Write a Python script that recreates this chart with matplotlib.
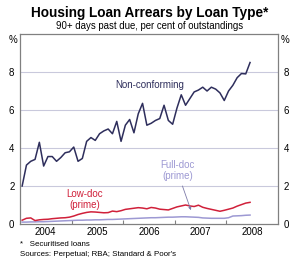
import numpy as np
import matplotlib
matplotlib.use("Agg")
import matplotlib.pyplot as plt

plt.rcParams['font.family'] = ['Liberation Sans', 'DejaVu Sans']

# monthly data, Jan 2004 - Jun 2008
months = np.arange(54)

non_conforming = [2.0, 3.1, 3.3, 3.4, 4.3, 3.05, 3.55, 3.55, 3.3, 3.5,
                  3.75, 3.8, 4.05, 3.3, 3.45, 4.35, 4.55, 4.4, 4.75, 4.9,
                  5.0, 4.75, 5.4, 4.35, 5.2, 5.5, 4.8, 5.8, 6.35, 5.2,
                  5.3, 5.45, 5.55, 6.25, 5.45, 5.25, 6.1, 6.8, 6.25, 6.6,
                  6.95, 7.05, 7.2, 7.0, 7.2, 7.1, 6.9, 6.5, 7.0, 7.3,
                  7.7, 7.92, 7.9, 8.5]

low_doc = [0.2, 0.3, 0.32, 0.18, 0.22, 0.24, 0.25, 0.28, 0.3, 0.32,
           0.33, 0.36, 0.42, 0.5, 0.56, 0.61, 0.64, 0.63, 0.61, 0.59,
           0.6, 0.68, 0.65, 0.7, 0.77, 0.8, 0.83, 0.86, 0.84, 0.8,
           0.87, 0.84, 0.78, 0.76, 0.74, 0.82, 0.9, 0.95, 1.0, 0.95,
           0.92, 0.99, 0.88, 0.82, 0.77, 0.72, 0.67, 0.72, 0.78, 0.84,
           0.94, 1.02, 1.1, 1.14]

full_doc = [0.1, 0.1, 0.11, 0.11, 0.12, 0.12, 0.13, 0.14, 0.15, 0.16,
            0.17, 0.18, 0.19, 0.2, 0.2, 0.21, 0.21, 0.22, 0.22, 0.23,
            0.24, 0.24, 0.25, 0.26, 0.27, 0.28, 0.29, 0.3, 0.31, 0.32,
            0.33, 0.33, 0.34, 0.35, 0.36, 0.36, 0.37, 0.38, 0.38, 0.37,
            0.36, 0.35, 0.32, 0.31, 0.3, 0.3, 0.3, 0.3, 0.33, 0.42,
            0.43, 0.44, 0.46, 0.47]

years = [2004, 2005, 2006, 2007, 2008]
y_ticks = [0, 2, 4, 6, 8]

NAVY = "#2e2e5c"
RED = "#d0203a"
LILAC = "#9d99d3"
FRAME = "#808080"
GRID = "#c9c9dc"

x = 2004 + (months + 0.5) / 12

fig = plt.figure(figsize=(3.0, 2.68), dpi=100)
ax = fig.add_axes([20 / 300, 1 - 224 / 268, 258 / 300, 190 / 268])

for y in y_ticks[1:]:
    ax.axhline(y, color=GRID, lw=0.8, zorder=0)

ax.plot(x, full_doc, color=LILAC, lw=1.1)
ax.plot(x, low_doc, color=RED, lw=1.1)
ax.plot(x, non_conforming, color=NAVY, lw=1.1)

ax.set_xlim(2004, 2009)
ax.set_ylim(0, 10)

for s in ax.spines.values():
    s.set_color(FRAME)
    s.set_linewidth(0.9)

# x: ticks at year boundaries, labels mid-year
ax.set_xticks(years[1:], minor=False)
ax.set_xticklabels([])
ax.tick_params(axis='x', which='major', direction='in', length=3,
               color=FRAME, width=0.8)
ax.set_xticks([y + 0.5 for y in years], minor=True)
ax.set_xticklabels([str(y) for y in years], minor=True, fontsize=7)
ax.tick_params(axis='x', which='minor', length=0, pad=2)

ax.set_yticks(y_ticks)
ax.set_yticklabels([str(v) for v in y_ticks], fontsize=7)
ax.tick_params(axis='y', length=0, pad=4, labelright=True, right=False)

fig.text(13 / 300, 1 - 40 / 268, "%", fontsize=7, ha='center', va='center')
fig.text(285 / 300, 1 - 40 / 268, "%", fontsize=7, ha='center', va='center')

fig.text(0.5, 1 - 13 / 268, "Housing Loan Arrears by Loan Type*",
         fontsize=9.8, fontweight='bold', ha='center', va='center')
fig.text(0.5, 1 - 26 / 268, "90+ days past due, per cent of outstandings",
         fontsize=6.9, ha='center', va='center')

ax.text(2006.52, 7.3, "Non-conforming", color=NAVY, fontsize=7,
        ha='center', va='center')
ax.text(2005.26, 1.3, "Low-doc\n(prime)", color=RED, fontsize=7,
        ha='center', va='center', linespacing=1.1)
ax.text(2007.06, 2.8, "Full-doc\n(prime)", color=LILAC, fontsize=7,
        ha='center', va='center', linespacing=1.1)
ax.annotate("", xy=(2007.33, 0.59), xytext=(2007.13, 2.14),
            arrowprops=dict(arrowstyle='-|>', color="#7d7aa8", lw=0.6,
                            mutation_scale=4))

fig.text(20 / 300, 1 - 245 / 268, "*   Securitised loans", fontsize=5.7,
         ha='left', va='center')
fig.text(20 / 300, 1 - 254 / 268, "Sources: Perpetual; RBA; Standard & Poor's",
         fontsize=5.7, ha='left', va='center')

fig.savefig("out.png", dpi=100)
